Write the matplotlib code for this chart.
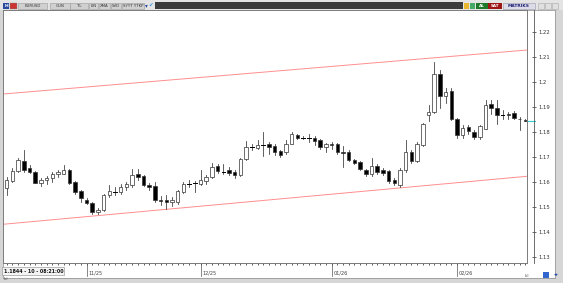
import matplotlib
matplotlib.use("Agg")
import matplotlib.pyplot as plt
from matplotlib.patches import Rectangle

# --------------------------------------------
# DATA (EURUSD daily candles)
# --------------------------------------------
opens = [1.1576, 1.1607, 1.1644, 1.1685, 1.1657, 1.1641, 1.1598, 1.1608, 1.1619, 1.1635,
         1.1635, 1.1651, 1.1601, 1.1565, 1.1531, 1.1517, 1.1481, 1.1488, 1.1548, 1.1562,
         1.1562, 1.1581, 1.1588, 1.1635, 1.1624, 1.1588, 1.1584, 1.1529, 1.1528, 1.1521,
         1.1521, 1.1561, 1.1595, 1.1596, 1.1595, 1.1605, 1.1621, 1.1664, 1.1642, 1.1648,
         1.1641, 1.1628, 1.1695, 1.1741, 1.1739, 1.1748, 1.1752, 1.1744, 1.1725, 1.1721,
         1.1755, 1.1788, 1.1779, 1.1776, 1.1779, 1.1771, 1.1741, 1.1752, 1.1752, 1.1721,
         1.1721, 1.1688, 1.1681, 1.1651, 1.1632, 1.1664, 1.1648, 1.1645, 1.1608, 1.1588,
         1.1648, 1.1720, 1.1684, 1.1748, 1.1871, 1.1881, 1.2032, 1.1945, 1.1964, 1.1852,
         1.1791, 1.1821, 1.1801, 1.1781, 1.1815, 1.1915, 1.1897, 1.1871, 1.1872, 1.1879,
         1.1855, 1.1851]
highs = [1.1620, 1.1656, 1.1696, 1.1728, 1.1668, 1.1645, 1.1617, 1.1624, 1.1641, 1.1651,
         1.1668, 1.1655, 1.1605, 1.1571, 1.1539, 1.1521, 1.1497, 1.1555, 1.1588, 1.1581,
         1.1595, 1.1601, 1.1655, 1.1655, 1.1628, 1.1597, 1.1601, 1.1544, 1.1548, 1.1540,
         1.1571, 1.1601, 1.1608, 1.1604, 1.1651, 1.1628, 1.1677, 1.1672, 1.1672, 1.1661,
         1.1651, 1.1699, 1.1765, 1.1755, 1.1768, 1.1801, 1.1761, 1.1752, 1.1731, 1.1768,
         1.1801, 1.1792, 1.1784, 1.1795, 1.1784, 1.1775, 1.1757, 1.1761, 1.1757, 1.1744,
         1.1728, 1.1695, 1.1685, 1.1655, 1.1699, 1.1672, 1.1659, 1.1651, 1.1617, 1.1656,
         1.1768, 1.1728, 1.1760, 1.1836, 1.1908, 1.2081, 1.2048, 1.1976, 1.1976, 1.1857,
         1.1828, 1.1828, 1.1808, 1.1828, 1.1928, 1.1928, 1.1928, 1.1888, 1.1880, 1.1884,
         1.1861, 1.1853]
lows = [1.1548, 1.1600, 1.1640, 1.1640, 1.1639, 1.1597, 1.1584, 1.1592, 1.1601, 1.1621,
        1.1632, 1.1595, 1.1555, 1.1521, 1.1515, 1.1475, 1.1475, 1.1485, 1.1541, 1.1548,
        1.1552, 1.1568, 1.1581, 1.1611, 1.1584, 1.1568, 1.1521, 1.1508, 1.1495, 1.1505,
        1.1515, 1.1557, 1.1581, 1.1561, 1.1588, 1.1595, 1.1619, 1.1637, 1.1632, 1.1628,
        1.1619, 1.1624, 1.1691, 1.1728, 1.1735, 1.1705, 1.1715, 1.1708, 1.1701, 1.1715,
        1.1752, 1.1775, 1.1775, 1.1761, 1.1748, 1.1735, 1.1721, 1.1735, 1.1715, 1.1661,
        1.1685, 1.1672, 1.1648, 1.1624, 1.1624, 1.1635, 1.1628, 1.1597, 1.1588, 1.1581,
        1.1641, 1.1676, 1.1681, 1.1745, 1.1844, 1.1879, 1.1896, 1.1916, 1.1848, 1.1777,
        1.1777, 1.1795, 1.1772, 1.1775, 1.1812, 1.1875, 1.1835, 1.1855, 1.1855, 1.1852,
        1.1808, 1.1844]
closes = [1.1608, 1.1647, 1.1688, 1.1648, 1.1641, 1.1599, 1.1611, 1.1619, 1.1635, 1.1641,
          1.1651, 1.1599, 1.1561, 1.1539, 1.1517, 1.1481, 1.1491, 1.1548, 1.1565, 1.1563,
          1.1581, 1.1595, 1.1628, 1.1621, 1.1588, 1.1581, 1.1528, 1.1527, 1.1521, 1.1528,
          1.1565, 1.1592, 1.1596, 1.1597, 1.1608, 1.1621, 1.1661, 1.1644, 1.1641, 1.1637,
          1.1628, 1.1695, 1.1741, 1.1742, 1.1748, 1.1749, 1.1741, 1.1721, 1.1711, 1.1755,
          1.1792, 1.1779, 1.1779, 1.1775, 1.1765, 1.1741, 1.1752, 1.1748, 1.1721, 1.1717,
          1.1691, 1.1677, 1.1655, 1.1632, 1.1664, 1.1641, 1.1637, 1.1605, 1.1597, 1.1648,
          1.1720, 1.1684, 1.1752, 1.1832, 1.1881, 1.2032, 1.1945, 1.1961, 1.1852, 1.1791,
          1.1817, 1.1804, 1.1781, 1.1825, 1.1911, 1.1897, 1.1871, 1.1872, 1.1870, 1.1857,
          1.1853, 1.1846]

# month labels (candle index where each month starts)
month_idx = [14, 34, 57, 79]
month_labels = ["11/25", "12/25", "01/26", "02/26"]

# price scale
price_ticks = [1.13, 1.14, 1.15, 1.16, 1.17, 1.18, 1.19, 1.20, 1.21, 1.22]

# channel trendlines (endpoints in candle index / price)
channel_x = [-0.65, 91.3]
channel_upper = [1.1953, 1.2129]
channel_lower = [1.1432, 1.1624]

# --------------------------------------------
# FIGURE
# --------------------------------------------
W, H = 563, 283
fig = plt.figure(figsize=(W / 100, H / 100), dpi=100)
fig.patch.set_facecolor("#d6d6d6")


def frac(x0, y0, x1, y1):
    return [x0 / W, 1 - y1 / H, (x1 - x0) / W, (y1 - y0) / H]


# white area behind price + time scales
bg = fig.add_axes(frac(3, 10, 555, 278))
bg.set_facecolor("white")
bg.set_xticks([])
bg.set_yticks([])
for s in bg.spines.values():
    s.set_color("#9a9a9a")
    s.set_linewidth(0.6)

ax = fig.add_axes(frac(3, 10, 527, 263))
ax.set_facecolor("white")
ax.set_xlim(-0.65, 91.28)
ax.set_ylim(1.12772, 1.2289)

n = len(opens)
bw = 0.62
for i in range(n):
    o, h, l, c = opens[i], highs[i], lows[i], closes[i]
    ax.plot([i, i], [l, h], color="#333333", lw=0.55, zorder=2)
    lo, hi = min(o, c), max(o, c)
    if hi - lo < 0.00012:
        ax.plot([i - bw / 2, i + bw / 2], [o, o], color="black", lw=0.7, zorder=3)
    else:
        face = "black" if c < o else "white"
        ax.add_patch(Rectangle((i - bw / 2, lo), bw, hi - lo, facecolor=face,
                               edgecolor="#333333", lw=0.5, zorder=3))

ax.plot(channel_x, channel_upper, color="#ff8e8e", lw=0.7, zorder=1)
ax.plot(channel_x, channel_lower, color="#ff8e8e", lw=0.7, zorder=1)

ax.set_yticks([])
ax.set_xticks(range(n))
ax.tick_params(axis="x", length=1.5, width=0.6, color="#444444", labelbottom=False)
for s in ax.spines.values():
    s.set_color("#7a7a7a")
    s.set_linewidth(0.7)

# price scale on the right
ax2 = ax.twinx()
ax2.set_ylim(ax.get_ylim())
ax2.spines["right"].set_position(("outward", 5.0))
ax2.spines["right"].set_color("#555555")
ax2.spines["right"].set_linewidth(0.6)
for k in ["top", "bottom", "left"]:
    ax2.spines[k].set_visible(False)
ax2.set_yticks(price_ticks)
ax2.set_yticklabels([("%.2f" % p).rstrip("0") for p in price_ticks])
ax2.tick_params(axis="y", direction="inout", length=3, width=0.5, pad=1.5,
                labelsize=3.8, colors="#333333")

# short cyan bid mark at last close
ax.plot([n - 0.6, n + 0.6], [closes[-1], closes[-1]], color="#33cccc", lw=0.8,
        clip_on=False, zorder=4)

# month labels under the chart
for i, lab in zip(month_idx, month_labels):
    ax.plot([i, i], [1.12772, 1.1226], color="#555555", lw=0.5, clip_on=False)
    ax.text(i + 0.3, 1.1237, lab, fontsize=3.6, color="#444444", ha="left", va="center",
            clip_on=False)

# --------------------------------------------
# WINDOW DECORATION (toolbar / status)
# --------------------------------------------
ov = fig.add_axes([0, 0, 1, 1], facecolor="none")
ov.set_xlim(0, W)
ov.set_ylim(H, 0)
ov.axis("off")

ov.add_patch(Rectangle((0, 0), W, 10, facecolor="#e4e4e4", edgecolor="none"))
ov.add_patch(Rectangle((3, 2.5), 6, 6, facecolor="#2a4aa0", edgecolor="none"))
ov.text(6, 5.6, "H", fontsize=3.2, color="white", ha="center", va="center", weight="bold")
ov.add_patch(Rectangle((10, 2.5), 7, 6, facecolor="#cc3333", edgecolor="#888888", lw=0.3))

buttons = [(18, 47, "EURUSD"), (50, 70, "GUN"), (70, 88, "TL"), (89, 98, "LIN"),
           (99, 110, "XMA"), (111, 121, "SVD"), (122, 144, "SYYT YTKP")]
for x0, x1, lab in buttons:
    ov.add_patch(Rectangle((x0, 2.5), x1 - x0, 6, facecolor="#d0d0d0",
                           edgecolor="#999999", lw=0.4))
    ov.text((x0 + x1) / 2, 5.7, lab, fontsize=2.8, color="#333333", ha="center", va="center")
ov.text(146, 5.5, "▾", fontsize=4, color="#2a4aa0", ha="center", va="center")
ov.text(151, 5.5, "✔", fontsize=4, color="#3399dd", ha="center", va="center")
ov.add_patch(Rectangle((155, 2), 308, 7, facecolor="#3c3c3c", edgecolor="none"))

ov.add_patch(Rectangle((464, 3), 5, 6, facecolor="#e8b830", edgecolor="none"))
ov.add_patch(Rectangle((470, 3), 5, 6, facecolor="#44aa66", edgecolor="none"))
ov.add_patch(Rectangle((476, 2.5), 12, 6.5, facecolor="#1e7a2a", edgecolor="none"))
ov.text(482, 5.8, "AL", fontsize=3, color="white", ha="center", va="center", weight="bold")
ov.add_patch(Rectangle((488, 2.5), 14, 6.5, facecolor="#9e1515", edgecolor="none"))
ov.text(495, 5.8, "SAT", fontsize=3, color="white", ha="center", va="center", weight="bold")
ov.add_patch(Rectangle((503, 2.5), 32, 6.5, facecolor="#dcdce8", edgecolor="#9999aa", lw=0.4))
ov.text(519, 5.8, "MATRIKS", fontsize=3.2, color="#22227a", ha="center", va="center",
        weight="bold")
for bx in [538, 545, 552]:
    ov.add_patch(Rectangle((bx, 3), 6, 6, facecolor="#e0e0e0", edgecolor="#aaaaaa", lw=0.4))

# bottom-left info box
ov.add_patch(Rectangle((2, 267), 62, 8, facecolor="#f4f4f4", edgecolor="#888888", lw=0.4))
ov.text(4, 271.2, "1.1844 - 10 - 08:21:00", fontsize=3.4, color="#111111",
        ha="left", va="center", weight="bold")
ov.text(4, 279, "ılıl", fontsize=3, color="#444444", ha="left", va="center")
ov.text(525, 276, "ılıl", fontsize=3, color="#444444", ha="left", va="center")
ov.add_patch(Rectangle((543, 272), 6, 6, facecolor="#3366cc", edgecolor="none"))
ov.text(554, 275, "◂▸", fontsize=3.5, color="#2244aa", ha="left", va="center")

fig.savefig("out.png", dpi=100, facecolor=fig.get_facecolor())
